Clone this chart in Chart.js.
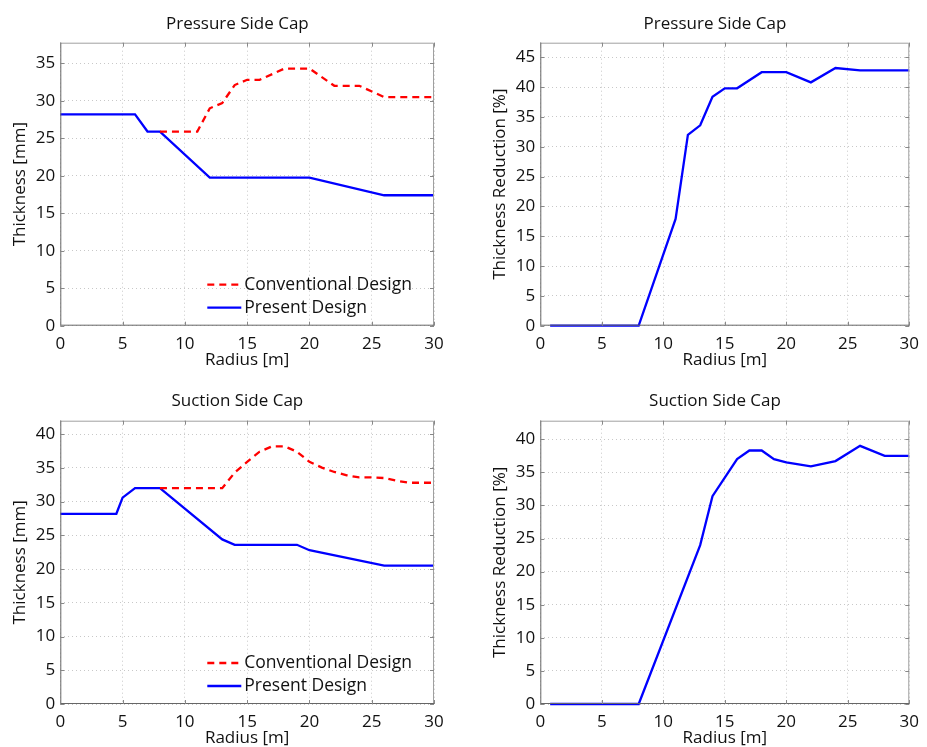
<!DOCTYPE html>
<html>
<head>
<meta charset="utf-8">
<script src="https://cdn.jsdelivr.net/npm/chart.js@4.4.0/dist/chart.umd.min.js"></script>
<style>
body { margin: 0; background: #fff; width: 927px; height: 747px; position: relative; overflow: hidden; }
canvas { position: absolute; }
</style>
</head>
<body>
<canvas id="pressureThk" width="463" height="372" style="left:0;top:0"></canvas>
<canvas id="pressureRed" width="464" height="372" style="left:463px;top:0"></canvas>
<canvas id="suctionThk" width="463" height="375" style="left:0;top:372px"></canvas>
<canvas id="suctionRed" width="464" height="375" style="left:463px;top:372px"></canvas>
<script>
// pressure side cap
const psPresentR = [0, 6, 7, 8, 12, 20, 26, 30];
const psPresent = [28.2, 28.2, 25.9, 25.9, 19.75, 19.75, 17.4, 17.4];
const psConvR = [8, 11, 12, 13, 14, 15, 16, 18, 20, 22, 24, 26, 30];
const psConv = [25.9, 25.9, 29.0, 29.7, 32.1, 32.8, 32.8, 34.3, 34.3, 32.0, 32.0, 30.5, 30.5];
const psRedR = [0.8, 8, 11, 12, 13, 14, 15, 16, 18, 20, 22, 24, 26, 30];
const psRed = [0, 0, 17.9, 32.0, 33.6, 38.4, 39.8, 39.8, 42.5, 42.5, 40.8, 43.2, 42.8, 42.8];

// suction side cap
const ssPresentR = [0, 4.5, 5, 6, 8, 13, 14, 19, 20, 26, 30];
const ssPresent = [28.2, 28.2, 30.6, 32.0, 32.0, 24.4, 23.6, 23.6, 22.8, 20.5, 20.5];
const ssConvR = [8, 13, 14, 15, 16, 17, 18, 19, 20, 21, 22, 23, 24, 25, 26, 27, 28, 30];
const ssConv = [32.0, 32.0, 34.3, 35.9, 37.4, 38.2, 38.2, 37.4, 35.9, 35.05, 34.4, 33.9, 33.6, 33.6, 33.5, 33.1, 32.8, 32.8];
const ssRedR = [0.8, 8, 13, 14, 15, 16, 17, 18, 19, 20, 22, 24, 26, 28, 30];
const ssRed = [0, 0, 24.0, 31.4, 34.2, 37.0, 38.3, 38.3, 37.0, 36.5, 35.9, 36.7, 39.0, 37.5, 37.5];

const FONT = 'Open Sans';
const INK = '#111';

function pts(xs, ys) {
    return xs.map((x, i) => ({ x: x, y: ys[i] }));
}

// box round the plot and inward ticks, like the original figure
const boxPlugin = {
    id: 'box',
    afterDatasetsDraw(chart) {
        const { ctx, chartArea: a, scales } = chart;
        ctx.save();
        ctx.lineWidth = 1;
        ctx.strokeStyle = '#a0a0a0';
        ctx.beginPath();
        ctx.moveTo(a.left, a.top + 0.5);
        ctx.lineTo(a.right - 0.5, a.top + 0.5);
        ctx.lineTo(a.right - 0.5, a.bottom);
        ctx.stroke();
        ctx.strokeStyle = '#666';
        ctx.beginPath();
        ctx.moveTo(a.left + 0.5, a.top);
        ctx.lineTo(a.left + 0.5, a.bottom - 0.5);
        ctx.lineTo(a.right, a.bottom - 0.5);
        ctx.stroke();
        // ticks
        ctx.strokeStyle = '#888';
        ctx.beginPath();
        scales.x.ticks.forEach(t => {
            const px = Math.round(scales.x.getPixelForValue(t.value)) + 0.5;
            ctx.moveTo(px, a.bottom); ctx.lineTo(px, a.bottom - 4);
            ctx.moveTo(px, a.top); ctx.lineTo(px, a.top + 4);
        });
        scales.y.ticks.forEach(t => {
            const py = Math.round(scales.y.getPixelForValue(t.value)) + 0.5;
            ctx.moveTo(a.left, py); ctx.lineTo(a.left + 4, py);
            ctx.moveTo(a.right, py); ctx.lineTo(a.right - 4, py);
        });
        ctx.stroke();
        ctx.restore();
    }
};

// subplot title, sits a little left of the axes centre in the original
const titlePlugin = {
    id: 'subTitle',
    afterDraw(chart, args, opts) {
        const { ctx, chartArea: a } = chart;
        ctx.save();
        ctx.font = '17px "' + FONT + '"';
        ctx.textAlign = 'center';
        ctx.textBaseline = 'alphabetic';
        ctx.fillStyle = INK;
        ctx.fillText(opts.text, (a.left + a.right) / 2 - 9.8, opts.baseline);
        ctx.restore();
    }
};

// legend inside the plot, lower right
const legendPlugin = {
    id: 'innerLegend',
    afterDraw(chart) {
        const sets = chart.data.datasets.filter(d => d.label);
        if (sets.length < 2) return;
        const { ctx, chartArea: a } = chart;
        ctx.save();
        ctx.font = '17.5px "' + FONT + '"';
        ctx.textBaseline = 'middle';
        ctx.fillStyle = INK;
        sets.forEach((d, i) => {
            const y = a.bottom - 41 + i * 23;
            const x0 = a.left + 147;
            ctx.strokeStyle = d.borderColor;
            ctx.lineWidth = d.borderWidth;
            ctx.setLineDash(d.borderDash || []);
            ctx.beginPath();
            ctx.moveTo(x0, y); ctx.lineTo(x0 + 34, y);
            ctx.stroke();
            ctx.fillText(d.label, x0 + 37, y);
        });
        ctx.restore();
    }
};

function makeChart(id, cfg) {
    const low = cfg.bottomRow;
    const el = document.getElementById(id);
    return new Chart(el.getContext('2d'), {
        type: 'line',
        data: { datasets: cfg.datasets },
        options: {
            responsive: false,
            animation: false,
            devicePixelRatio: 1,
            layout: { padding: { left: 0, right: cfg.padRight, top: low ? 48.7 : 42.7, bottom: 0 } },
            plugins: {
                legend: { display: false },
                tooltip: { enabled: false },
                title: { display: false },
                subTitle: { text: cfg.title, baseline: low ? 34 : 29 }
            },
            scales: {
                x: {
                    type: 'linear',
                    min: 0,
                    max: 30,
                    afterFit: s => { s.height = low ? 43 : 46.3; },
                    ticks: { stepSize: 5, padding: 8, color: INK, font: { family: FONT, size: 17 }, maxRotation: 0 },
                    grid: { color: '#c8c8c8', drawTicks: false },
                    border: { display: false, dash: [1, 3] },
                    title: {
                        display: true, text: 'Radius [m]', color: INK,
                        font: { family: FONT, size: 17, lineHeight: 1 },
                        padding: { top: 0, bottom: low ? 0 : 3 }
                    }
                },
                y: {
                    min: 0,
                    max: cfg.yMax,
                    afterFit: s => { s.width = cfg.yWidth; },
                    ticks: { stepSize: 5, padding: 5, includeBounds: false, color: INK, font: { family: FONT, size: 17 } },
                    grid: { color: '#c8c8c8', drawTicks: false },
                    border: { display: false, dash: [1, 3] },
                    title: {
                        display: true, text: cfg.yTitle, color: INK,
                        font: { family: FONT, size: 17, lineHeight: 1 },
                        padding: { top: cfg.yTitlePad, bottom: 0 }
                    }
                }
            }
        },
        plugins: [boxPlugin, titlePlugin, legendPlugin]
    });
}

function lineSet(label, xs, ys, color, dash) {
    return {
        label: label,
        data: pts(xs, ys),
        borderColor: color,
        borderWidth: 2.3,
        borderDash: dash,
        pointRadius: 0,
        tension: 0,
        fill: false,
        clip: false
    };
}

makeChart('pressureThk', {
    title: 'Pressure Side Cap', yTitle: 'Thickness [mm]', yMax: 37.75,
    yWidth: 60.3, yTitlePad: 11.5, padRight: 29, bottomRow: false,
    datasets: [
        lineSet('Conventional Design', psConvR, psConv, '#ff0000', [7, 5]),
        lineSet('Present Design', psPresentR, psPresent, '#0000ff', [])
    ]
});

makeChart('pressureRed', {
    title: 'Pressure Side Cap', yTitle: 'Thickness Reduction [%]', yMax: 47.45,
    yWidth: 77.3, yTitlePad: 28.5, padRight: 12, bottomRow: false,
    datasets: [lineSet('', psRedR, psRed, '#0000ff', [])]
});

makeChart('suctionThk', {
    title: 'Suction Side Cap', yTitle: 'Thickness [mm]', yMax: 42.0,
    yWidth: 60.3, yTitlePad: 11.5, padRight: 29, bottomRow: true,
    datasets: [
        lineSet('Conventional Design', ssConvR, ssConv, '#ff0000', [7, 5]),
        lineSet('Present Design', ssPresentR, ssPresent, '#0000ff', [])
    ]
});

makeChart('suctionRed', {
    title: 'Suction Side Cap', yTitle: 'Thickness Reduction [%]', yMax: 42.8,
    yWidth: 77.3, yTitlePad: 28.5, padRight: 12, bottomRow: true,
    datasets: [lineSet('', ssRedR, ssRed, '#0000ff', [])]
});
</script>
</body>
</html>
